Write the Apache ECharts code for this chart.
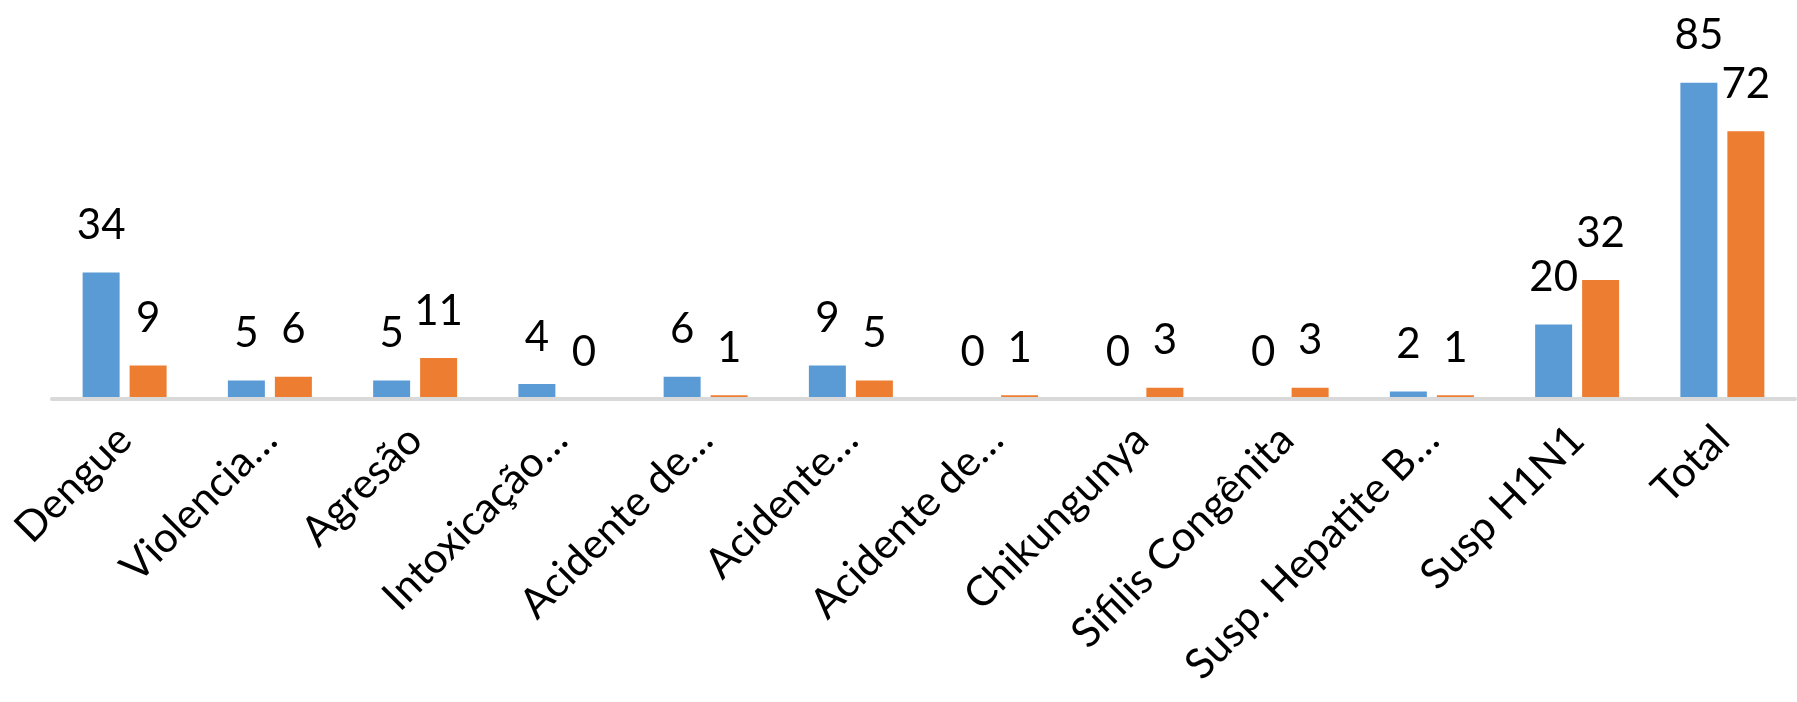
<!DOCTYPE html>
<html>
<head>
<meta charset="utf-8">
<script src="https://cdn.jsdelivr.net/npm/echarts@6/dist/echarts.min.js"></script>
<style>
html,body{margin:0;padding:0;background:#fff;}
#chart{width:1797px;height:702px;}
</style>
</head>
<body>
<div id="chart"></div>
<script>
const categories = ["Dengue","Violencia…","Agresão","Intoxicação…","Acidente de…","Acidente…","Acidente de…","Chikungunya","Sifilis Congênita","Susp. Hepatite B…","Susp H1N1","Total"];
const seriesA = [34,5,5,4,6,9,0,0,0,2,20,85];
const seriesB = [9,6,11,0,1,5,1,3,3,1,32,72];

const chart = echarts.init(document.getElementById('chart'), null, {renderer:'canvas'});
const FONT = 'Lato, "Open Sans", sans-serif';
const labelCfg = {
  show: true, position: 'top', distance: 26,
  color: '#000', fontSize: 42, lineHeight: 42, fontFamily: FONT
};
chart.setOption({
  animation: false,
  grid: {left: 52, right: 2, top: 27, bottom: 303, containLabel: false},
  xAxis: {
    type: 'category', data: categories, z: 5,
    axisLine: {show: true, lineStyle: {color: '#D9D9D9', width: 4}},
    axisTick: {show: false},
    axisLabel: {rotate: 45, interval: 0, margin: 34, color: '#000', fontSize: 42, fontFamily: FONT}
  },
  yAxis: {
    type: 'value', min: 0, max: 100, show: false,
    splitLine: {show: false}
  },
  series: [
    {type: 'bar', data: seriesA, barWidth: 37, barGap: '27%', itemStyle: {color: '#5B9BD5'}, label: labelCfg},
    {type: 'bar', data: seriesB, barWidth: 37, barGap: '27%', itemStyle: {color: '#ED7D31'}, label: labelCfg}
  ]
});
</script>
</body>
</html>
